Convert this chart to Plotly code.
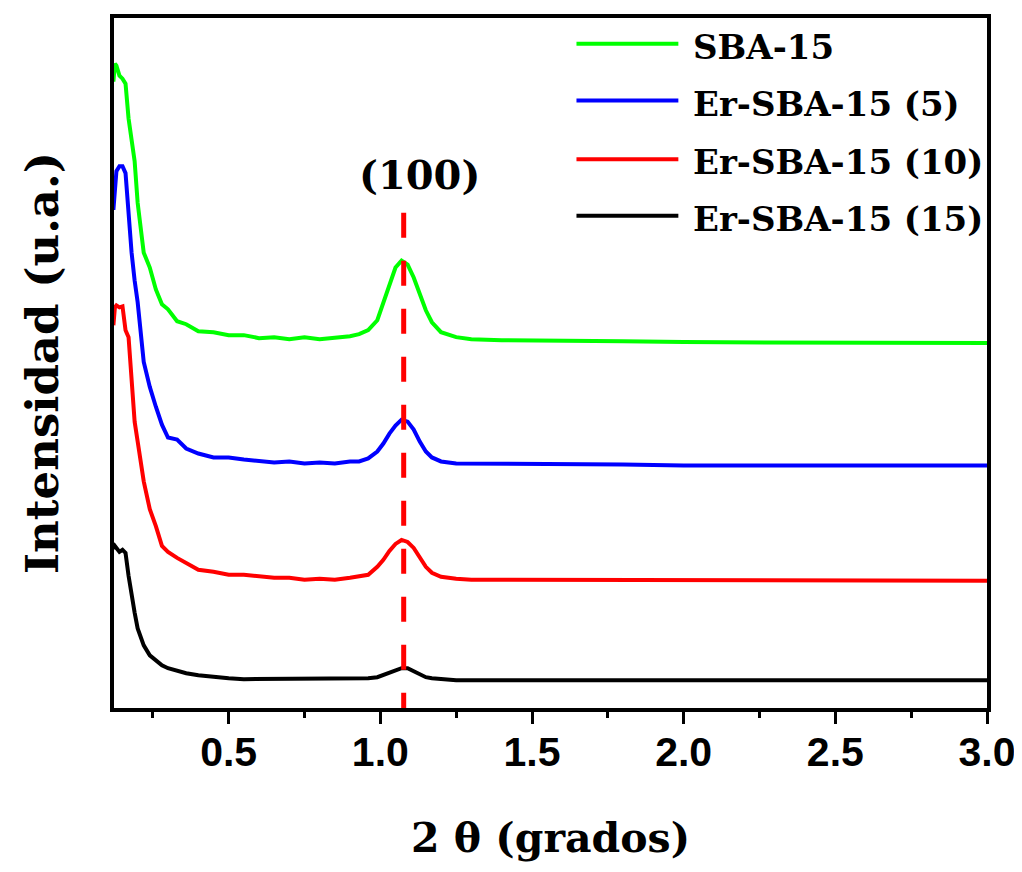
import plotly.graph_objects as go

# ---------------- data ----------------
two_theta = [0.12, 0.125, 0.13, 0.14, 0.15, 0.16, 0.17, 0.18, 0.19, 0.20, 0.22, 0.24,
             0.26, 0.28, 0.30, 0.33, 0.36, 0.40, 0.45, 0.50, 0.55, 0.60, 0.65, 0.70,
             0.75, 0.80, 0.85, 0.90, 0.93, 0.96, 0.99, 1.01, 1.03, 1.05, 1.07, 1.09,
             1.11, 1.13, 1.15, 1.17, 1.20, 1.25, 1.30, 1.40, 1.60, 1.80, 2.00, 2.20,
             2.40, 2.60, 2.80, 3.00]

# intensities in arbitrary units (offset stacked curves)
sba15 = [630, 648, 646, 636, 633, 628, 593, 573, 550, 508, 458, 443,
         421, 406, 401, 389, 386, 379, 378, 375, 375, 372, 373, 371,
         373, 371, 372, 374, 376, 380, 390, 408, 428, 443, 450, 446,
         433, 416, 400, 388, 378, 373, 371, 370, 369, 369, 368, 368,
         368, 368, 367, 367]
er5 = [501, 523, 540, 545, 545, 538, 493, 458, 430, 408, 348, 323,
       303, 285, 272, 270, 261, 256, 252, 252, 250, 249, 247, 248,
       246, 247, 246, 248, 248, 251, 258, 266, 276, 284, 290, 288,
       280, 268, 258, 252, 248, 246, 246, 245, 245, 245, 244, 244,
       244, 244, 244, 244]
er10 = [385, 403, 405, 403, 404, 380, 373, 328, 288, 268, 228, 200,
        183, 163, 157, 151, 146, 139, 137, 134, 134, 132, 131, 131,
        129, 130, 129, 131, 132, 134, 142, 149, 158, 165, 169, 167,
        161, 151, 142, 136, 132, 130, 129, 129, 129, 128, 128, 128,
        128, 128, 128, 128]
er15 = [160, 163, 161, 157, 159, 156, 133, 113, 96, 80, 63, 53,
        48, 43, 40, 37, 35, 33, 31, 30, 29, 29, 29, 29,
        29, 29, 29, 29, 29, 30, 31, 33, 36, 38, 40, 40,
        37, 34, 31, 30, 29, 28, 28, 28, 28, 28, 28, 28,
        28, 28, 28, 28]

series_names = ["SBA-15", "Er-SBA-15 (5)", "Er-SBA-15 (10)", "Er-SBA-15 (15)"]
series_values = [sba15, er5, er10, er15]
series_colors = ["#00FF00", "#0000FF", "#FF0000", "#000000"]

peak_label = "(100)"
peak_position = 1.077
peak_line_top = 498

x_ticks = [0.5, 1.0, 1.5, 2.0, 2.5, 3.0]
x_tick_text = ["0.5", "1.0", "1.5", "2.0", "2.5", "3.0"]
x_range = [0.122, 3.0]
y_range = [0, 694]

# ---------------- figure ----------------
# the page adds an 8 px body margin, so the figure is 8 px smaller on each axis
OFF = 8
W, H = 1022 - OFF, 872 - OFF
L, R, T, B = 114 - OFF, 34, 14 - OFF, 164
PW, PH = W - L - R, H - T - B


def px_to_paper(px, py):
    """Convert a window pixel position to paper coordinates."""
    fx, fy = px - OFF, py - OFF
    return (fx - L) / PW, (H - B - fy) / PH


fig = go.Figure()
for name, vals, col in reversed(list(zip(series_names, series_values, series_colors))):
    fig.add_trace(go.Scatter(x=two_theta, y=vals, mode="lines", name=name,
                             line=dict(color=col, width=4), showlegend=False))

# dashed reference line at the (100) reflection
fig.add_shape(type="line", xref="x", yref="y", x0=peak_position, x1=peak_position,
              y0=peak_line_top, y1=y_range[0],
              line=dict(color="#FF0000", width=5, dash="25px,23px"))

serif = "DejaVu Serif"
fig.add_annotation(text=peak_label, xref="paper", yref="paper",
                   x=px_to_paper(420, 0)[0], y=px_to_paper(0, 171)[1],
                   showarrow=False, xanchor="center", yanchor="middle",
                   font=dict(family=serif, size=40, color="black", weight="bold"))

# custom legend (long line samples)
legend_rows_y = [40, 97, 156, 213]
for name, col, ry in zip(series_names, series_colors, legend_rows_y):
    x0, yy = px_to_paper(577, ry)
    x1, _ = px_to_paper(679, ry)
    fig.add_shape(type="line", xref="paper", yref="paper", x0=x0, x1=x1, y0=yy, y1=yy,
                  line=dict(color=col, width=4))
    tx, ty = px_to_paper(692, ry + 3)
    fig.add_annotation(text=name, xref="paper", yref="paper", x=tx, y=ty,
                       showarrow=False, xanchor="left", yanchor="middle",
                       font=dict(family=serif, size=34, color="black", weight="bold"))

fig.update_layout(
    width=W, height=H,
    margin=dict(l=L, r=R, t=T, b=B),
    paper_bgcolor="white", plot_bgcolor="white",
    showlegend=False,
    xaxis=dict(range=x_range, tickmode="array", tickvals=x_ticks, ticktext=x_tick_text,
               ticks="outside", ticklen=12, tickwidth=3, tickcolor="black",
               ticklabelstandoff=-7,
               minor=dict(ticks="outside", dtick=0.25, tick0=0, ticklen=6, tickwidth=3,
                          tickcolor="black"),
               showline=True, linewidth=4, linecolor="black", mirror=True,
               showgrid=False, zeroline=False,
               tickfont=dict(family="Liberation Sans", size=41, color="black", weight="bold"),
               title=dict(text="2 θ (grados)", standoff=50,
                          font=dict(family=serif, size=41, color="black", weight="bold"))),
    yaxis=dict(range=y_range, showticklabels=False, ticks="",
               showline=True, linewidth=4, linecolor="black", mirror=True,
               showgrid=False, zeroline=False,
               title=dict(text="Intensidad (u.a.)", standoff=38,
                          font=dict(family=serif, size=45, color="black", weight="bold"))),
)

fig.write_html("out.html")
